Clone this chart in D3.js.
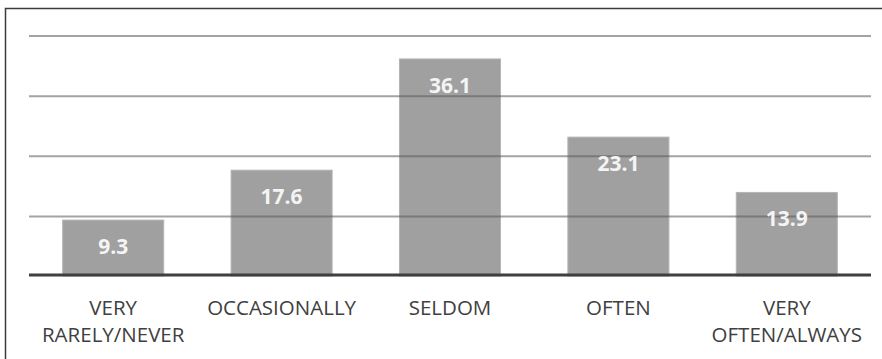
<!DOCTYPE html>
<html>
<head>
<meta charset="utf-8">
<script src="https://cdn.jsdelivr.net/npm/d3@7"></script>
<style>
  html, body { margin: 0; padding: 0; background: #fff; }
  svg { display: block; }
</style>
</head>
<body>
<div id="chart"></div>
<script>
// data
var categories = ["VERY RARELY/NEVER", "OCCASIONALLY", "SELDOM", "OFTEN", "VERY OFTEN/ALWAYS"];
var labelLines = [["VERY", "RARELY/NEVER"], ["OCCASIONALLY"], ["SELDOM"], ["OFTEN"], ["VERY", "OFTEN/ALWAYS"]];
var values = [9.3, 17.6, 36.1, 23.1, 13.9];
var gridTicks = [10, 20, 30, 40];

var W = 882, H = 359;
var mrg = { left: 29, right: 11, top: 35, bottom: 84 };

var svg = d3.select("#chart")
  .append("svg")
  .attr("width", W)
  .attr("height", H);

// outer frame (only left + top edges show in the picture)
svg.append("path")
  .attr("d", "M5.5," + H + "V8.5H" + W)
  .attr("fill", "none")
  .attr("stroke", "#3c3c3c")
  .attr("stroke-width", 1.5);

var xScale = d3.scaleBand()
  .domain(categories)
  .range([mrg.left, W - mrg.right])
  .paddingInner(0.4)
  .paddingOuter(0.2);

var yScale = d3.scaleLinear()
  .domain([0, 40])
  .range([276, 35.5]);

// bars
svg.append("g")
  .selectAll("rect")
  .data(values)
  .enter()
  .append("rect")
  .attr("x", function(d, i) { return xScale(categories[i]); })
  .attr("y", function(d) { return yScale(d); })
  .attr("width", xScale.bandwidth())
  .attr("height", function(d) { return yScale(0) - yScale(d); })
  .attr("fill", "#a0a0a0")
  .attr("stroke", "#b4b4b4")
  .attr("stroke-width", 1);

// gridlines go over the bars
var grid = svg.append("g")
  .attr("transform", "translate(" + mrg.left + ",0)")
  .call(d3.axisLeft(yScale).tickValues(gridTicks).tickSize(-(W - mrg.left - mrg.right)).tickFormat(""));
grid.select(".domain").remove();
grid.selectAll("line")
  .attr("stroke", "#5a5a5a")
  .attr("stroke-opacity", 0.55)
  .attr("stroke-width", 2);

// baseline
svg.append("line")
  .attr("x1", mrg.left).attr("x2", W - mrg.right)
  .attr("y1", 275).attr("y2", 275)
  .attr("stroke", "#3f3f3f")
  .attr("stroke-width", 3);

// value labels
svg.append("g")
  .selectAll("text")
  .data(values)
  .enter()
  .append("text")
  .attr("x", function(d, i) { return xScale(categories[i]) + xScale.bandwidth() / 2; })
  .attr("y", function(d) { return yScale(d) + 34; })
  .attr("text-anchor", "middle")
  .attr("font-family", "'Open Sans', sans-serif")
  .attr("font-weight", "bold")
  .attr("font-size", "21px")
  .attr("fill", "#f4f4f4")
  .text(function(d) { return d.toFixed(1); });

// category labels
var cat = svg.append("g")
  .selectAll("text")
  .data(categories)
  .enter()
  .append("text")
  .attr("x", function(d) { return xScale(d) + xScale.bandwidth() / 2; })
  .attr("y", 315)
  .attr("text-anchor", "middle")
  .attr("font-family", "'Open Sans', sans-serif")
  .attr("font-size", "20.5px")
  .attr("fill", "#404040");
cat.each(function(d, i) {
  var t = d3.select(this);
  labelLines[i].forEach(function(ln, j) {
    t.append("tspan")
      .attr("x", xScale(d) + xScale.bandwidth() / 2)
      .attr("dy", j === 0 ? 0 : 27)
      .text(ln);
  });
});
</script>
</body>
</html>
